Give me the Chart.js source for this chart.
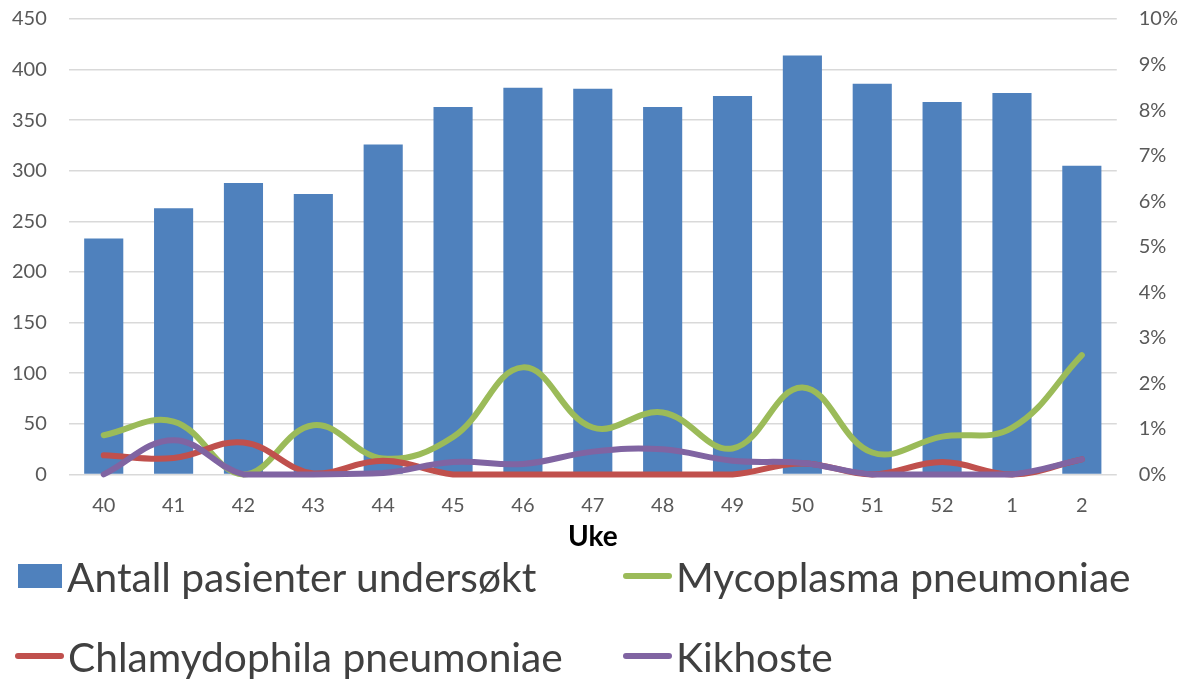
<!DOCTYPE html>
<html>
<head>
<meta charset="utf-8">
<script src="https://cdn.jsdelivr.net/npm/chart.js@4.4.1/dist/chart.umd.min.js"></script>
<style>
  body { margin: 0; background: #fff; font-family: Lato, "Open Sans", sans-serif; }
  #wrap { position: relative; width: 1189px; height: 679px; overflow: hidden; }
  #box { position: absolute; left: 0; top: 0; width: 1189px; height: 556px; }
  #legend { position: absolute; left: 0; top: 536px; width: 1189px; }
  .row { display: flex; height: 80px; align-items: center; }
  .item { display: flex; align-items: center; color: #404040; font-size: 40.7px; }
  .item.c1 { width: 608px; padding-left: 15px; }
</style>
</head>
<body>
<div id="wrap">
  <div id="box"><canvas id="chart"></canvas></div>
  <div id="legend"></div>
</div>
<script>
const weeks = ["40","41","42","43","44","45","46","47","48","49","50","51","52","1","2"];
const patients = [233, 263, 288, 277, 326, 363, 382, 381, 363, 374, 414, 386, 368, 377, 305];
// percent of tested
const mycoplasma = [0.86, 1.16, 0.0, 1.08, 0.35, 0.82, 2.35, 1.03, 1.36, 0.57, 1.91, 0.48, 0.83, 1.02, 2.62];
const chlamydophila = [0.42, 0.36, 0.7, 0.02, 0.3, 0.0, 0.0, 0.0, 0.0, 0.0, 0.24, 0.0, 0.27, 0.0, 0.33];
const kikhoste = [0.0, 0.75, 0.0, 0.0, 0.03, 0.27, 0.23, 0.5, 0.55, 0.3, 0.25, 0.0, 0.0, 0.0, 0.33];

const blue = "#4F81BD", green = "#9BBB59", red = "#C0504D", purple = "#8064A2";
const tickColor = "#595959";
const tickFont = { family: "Lato", size: 20 };

const lineSet = (label, data, color, order) => ({
  type: "line",
  label: label,
  data: data,
  yAxisID: "y1",
  borderColor: color,
  backgroundColor: color,
  borderWidth: 6,
  pointRadius: 0,
  tension: 0.4,
  fill: false,
  clip: false,
  borderCapStyle: "round",
  order: order
});

const chart = new Chart(document.getElementById("chart"), {
  data: {
    labels: weeks,
    datasets: [
      {
        type: "bar",
        label: "Antall pasienter undersøkt",
        data: patients,
        yAxisID: "y",
        backgroundColor: blue,
        barPercentage: 0.56,
        categoryPercentage: 1,
        order: 4
      },
      lineSet("Mycoplasma pneumoniae", mycoplasma, green, 3),
      lineSet("Chlamydophila pneumoniae", chlamydophila, red, 2),
      lineSet("Kikhoste", kikhoste, purple, 1)
    ]
  },
  options: {
    responsive: true,
    maintainAspectRatio: false,
    animation: false,
    layout: { padding: { top: 19, right: 11, left: 12, bottom: 2 } },
    plugins: {
      legend: { display: false },
      tooltip: { enabled: false }
    },
    scales: {
      x: {
        // invisible tick marks give the gap under the plot
        grid: { display: true, drawOnChartArea: false, drawTicks: true, tickLength: 19, color: "transparent" },
        border: { display: false },
        ticks: { color: tickColor, font: tickFont, padding: 0 },
        title: {
          display: true,
          text: "Uke",
          color: "#000",
          font: { family: "Lato", size: 28, weight: "bold" },
          padding: { top: 3, bottom: 0 }
        }
      },
      y: {
        position: "left",
        min: 0,
        max: 450,
        ticks: { stepSize: 50, color: tickColor, font: tickFont, padding: 0 },
        grid: { color: "#D9D9D9", lineWidth: 1.5, drawTicks: true, tickLength: 22, tickColor: "transparent" },
        border: { display: false }
      },
      y1: {
        position: "right",
        min: 0,
        max: 10,
        ticks: {
          stepSize: 1,
          color: tickColor,
          font: tickFont,
          padding: 0,
          callback: v => v + "%"
        },
        grid: { drawOnChartArea: false, drawTicks: true, tickLength: 22, tickColor: "transparent" },
        border: { display: false }
      }
    }
  }
});

// legend in two columns, like the original
const legendEl = document.getElementById("legend");
const ds = chart.data.datasets;
const rows = [[ds[0], ds[1]], [ds[2], ds[3]]];
rows.forEach(r => {
  const row = document.createElement("div");
  row.className = "row";
  r.forEach((d, i) => {
    const it = document.createElement("div");
    it.className = "item" + (i === 0 ? " c1" : "");
    const m = document.createElement("span");
    if (d.type === "bar") {
      m.style.cssText = "display:inline-block;width:44px;height:24px;margin:0 5px 0 3px;background:" + d.backgroundColor;
    } else {
      m.style.cssText = "display:inline-block;width:49px;height:6px;border-radius:3px;margin-right:4px;background:" + d.borderColor;
    }
    const t = document.createElement("span");
    t.textContent = d.label;
    it.appendChild(m);
    it.appendChild(t);
    row.appendChild(it);
  });
  legendEl.appendChild(row);
});
</script>
</body>
</html>
